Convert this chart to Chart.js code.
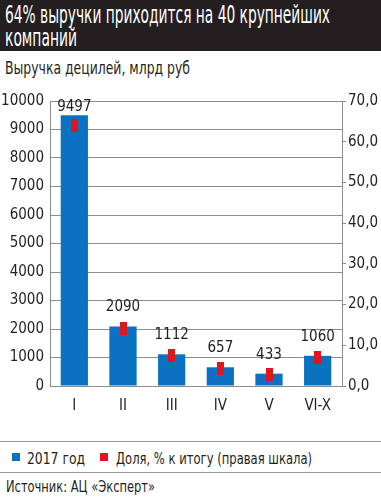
<!DOCTYPE html>
<html><head><meta charset="utf-8">
<script src="https://cdn.jsdelivr.net/npm/chart.js@4/dist/chart.umd.min.js"></script>
<style>
body{margin:0;width:381px;height:500px;background:#fff;position:relative;overflow:hidden;font-family:"DejaVu Sans Condensed","DejaVu Sans",sans-serif;color:#231f20}
#title{position:absolute;left:0;top:0;width:381px;height:51px;background:#231f20}
.fit{position:absolute;white-space:nowrap;transform-origin:0 0}
.t{color:#fff;font-size:24px;line-height:24px}
#legend{position:absolute;left:0;top:441px;width:381px;height:32px;border-top:1px solid #9a9a9a;border-bottom:1px solid #9a9a9a;box-sizing:border-box}
#legend i{position:absolute;top:11px;width:8px;height:8px}
#wrap{position:absolute;left:0;top:80px;width:381px;height:345px}
</style></head><body>
<div id="title">
  <div class="fit t" data-w="325" style="left:5px;top:3px">64% выручки приходится на 40 крупнейших</div>
  <div class="fit t" data-w="72" style="left:5px;top:26px">компаний</div>
</div>
<div class="fit" data-w="185" style="left:5px;top:58px;font-size:17px">Выручка децилей, млрд руб</div>
<div id="wrap"><canvas id="c"></canvas></div>
<div id="legend"><i style="left:12px;background:#0a72c0"></i><i style="left:100px;background:#e3141f"></i></div>
<div class="fit" data-w="58" style="left:27px;top:449px;font-size:16px">2017 год</div>
<div class="fit" data-w="196" style="left:116px;top:449px;font-size:16px">Доля, % к итогу (правая шкала)</div>
<div class="fit" data-w="149" style="left:6px;top:478px;font-size:15px">Источник: АЦ «Эксперт»</div>
<script>
document.querySelectorAll('.fit').forEach(el => {
  const w = el.getBoundingClientRect().width;
  el.style.transform = 'scaleX(' + (parseFloat(el.dataset.w) / w) + ')';
});

const categories = ['I','II','III','IV','V','VI-X'];
const revenue = [9497, 2090, 1112, 657, 433, 1060];
const share = [64.0, 14.1, 7.5, 4.4, 2.9, 7.1];
const seriesNames = ['2017 год', 'Доля, % к итогу (правая шкала)'];

const FONT = '"DejaVu Sans Condensed","DejaVu Sans",sans-serif';
const BLUE = '#0a72c0', RED = '#e3141f', GRID = '#8c8c8c', TXT = '#231f20';

const marker = document.createElement('canvas');
marker.width = 7; marker.height = 13;
const mctx = marker.getContext('2d');
mctx.fillStyle = RED; mctx.fillRect(0, 0, 7, 13);

const valueLabels = {
  id: 'valueLabels',
  afterDatasetsDraw(chart) {
    const ctx = chart.ctx;
    const meta = chart.getDatasetMeta(0);
    ctx.save();
    ctx.font = '15px ' + FONT;
    ctx.fillStyle = TXT;
    ctx.textAlign = 'center';
    ctx.textBaseline = 'middle';
    meta.data.forEach((bar, i) => {
      const y = Math.max(bar.y - 19, chart.chartArea.top + 6);
      ctx.fillText(String(revenue[i]), bar.x, y);
    });
    ctx.restore();
  }
};

new Chart(document.getElementById('c'), {
  type: 'bar',
  data: {
    labels: categories,
    datasets: [
      { type: 'bar', label: seriesNames[0], data: revenue, backgroundColor: BLUE, yAxisID: 'y',
        barPercentage: 0.56, categoryPercentage: 1, order: 2 },
      { type: 'line', label: seriesNames[1], data: share, yAxisID: 'y1', showLine: false,
        pointStyle: marker, pointRadius: 6, order: 0 }
    ]
  },
  options: {
    responsive: true, maintainAspectRatio: false, animation: false,
    layout: { padding: { top: 21, left: 0, right: 0, bottom: 0 } },
    plugins: { legend: { display: false }, tooltip: { enabled: false } },
    scales: {
      x: {
        grid: { display: false },
        border: { color: GRID, width: 1 },
        ticks: { color: TXT, font: { family: FONT, size: 15 }, padding: 3 },
        afterFit(s) { s.height = 39; }
      },
      y: {
        position: 'left', min: 0, max: 10000,
        ticks: { stepSize: 1000, color: TXT, font: { family: FONT, size: 15 }, padding: 6,
          callback: v => String(v) },
        grid: { color: GRID, lineWidth: 1, drawTicks: false },
        border: { color: GRID, width: 1 },
        afterFit(s) { s.width = 50; }
      },
      y1: {
        position: 'right', min: 0, max: 70,
        ticks: { stepSize: 10, color: TXT, font: { family: FONT, size: 15 }, padding: 2,
          callback: v => v.toFixed(1).replace('.', ',') },
        grid: { drawOnChartArea: false, color: GRID, tickLength: 4 },
        border: { color: GRID, width: 1 },
        afterFit(s) { s.width = 39; }
      }
    }
  },
  plugins: [valueLabels]
});
</script>
</body></html>
